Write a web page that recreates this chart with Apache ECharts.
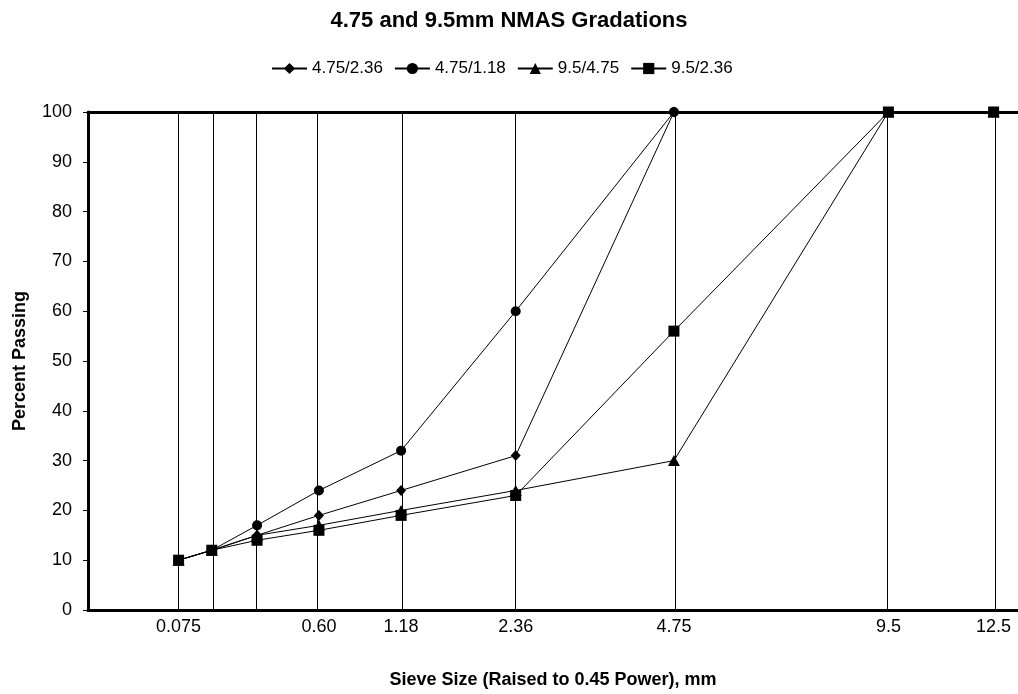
<!DOCTYPE html>
<html>
<head>
<meta charset="utf-8">
<script src="https://cdn.jsdelivr.net/npm/echarts@6/dist/echarts.min.js"></script>
<style>
  html, body { margin: 0; padding: 0; background: #fff; }
  #chart { width: 1018px; height: 694px; }
</style>
</head>
<body>
<div id="chart"></div>
<script>
// Sieve sizes (mm) and the power used for the x scale
var sieves = [0.075, 0.15, 0.30, 0.60, 1.18, 2.36, 4.75, 9.5, 12.5];
var power = 0.45;
// Tick labels shown on the x axis
var xTickLabels = ['0.075', '0.60', '1.18', '2.36', '4.75', '9.5', '12.5'];
// Series names
var seriesNames = ['4.75/2.36', '4.75/1.18', '9.5/4.75', '9.5/2.36'];
// Percent passing per series (in sieve order)
var pass_475_236 = [10, 12, 15, 19, 24, 31, 100];
var pass_475_118 = [10, 12, 17, 24, 32, 60, 100];
var pass_95_475 = [10, 12, 15, 17, 20, 24, 30, 100, 100];
var pass_95_236 = [10, 12, 14, 16, 19, 23, 56, 100, 100];

function px(s) { return Math.pow(s, power); }
function toPoints(vals) {
  return vals.map(function (v, i) { return [px(sieves[i]), v]; });
}

var FONT = "'Liberation Sans', Arial, sans-serif";
var chart = echarts.init(document.getElementById('chart'), null, { renderer: 'canvas' });

var symbols = [['diamond', [10, 11]], ['circle', 10], ['triangle', [12, 11]], ['rect', 11]];
var allData = [pass_475_236, pass_475_118, pass_95_475, pass_95_236];

var series = allData.map(function (vals, k) {
  var s = {
    name: seriesNames[k],
    type: 'line',
    data: toPoints(vals),
    symbol: symbols[k][0],
    symbolSize: symbols[k][1],
    showSymbol: true,
    lineStyle: { color: '#000', width: 1 },
    itemStyle: { color: '#000' },
    z: 3 + k,
    animation: false
  };
  if (k === 0) {
    s.markLine = {
      silent: true,
      symbol: 'none',
      animation: false,
      label: { show: false },
      lineStyle: { color: '#000', width: 1, type: 'solid' },
      emphasis: { disabled: true },
      data: sieves.map(function (sv) { return { xAxis: px(sv) }; })
    };
  }
  return s;
});

var option = {
  backgroundColor: '#fff',
  animation: false,
  title: {
    text: '4.75 and 9.5mm NMAS Gradations',
    left: 'center',
    top: 10,
    padding: 0,
    textStyle: { fontFamily: FONT, fontSize: 22, fontWeight: 'bold', color: '#000' }
  },
  legend: {
    top: 55,
    left: 266,
    itemWidth: 35,
    itemHeight: 14,
    itemGap: 11,
    textStyle: { fontFamily: FONT, fontSize: 17, color: '#000' },
    data: seriesNames
  },
  grid: {
    left: 88,
    top: 112,
    width: 933,
    height: 501,
    show: false
  },
  xAxis: [{
    type: 'value',
    min: 0,
    max: 3.2,
    name: 'Sieve Size (Raised to 0.45 Power), mm',
    nameLocation: 'middle',
    nameGap: 61,
    nameTextStyle: { fontFamily: FONT, fontSize: 18, fontWeight: 'bold', color: '#000' },
    axisLine: { show: true, onZero: false, lineStyle: { color: '#000', width: 3 } },
    axisTick: { show: false },
    splitLine: { show: false },
    axisLabel: {
      fontFamily: FONT, fontSize: 18, color: '#000', margin: 8,
      customValues: xTickLabels.map(function (l) { return px(parseFloat(l)); }),
      formatter: function (v) {
        for (var i = 0; i < xTickLabels.length; i++) {
          if (Math.abs(px(parseFloat(xTickLabels[i])) - v) < 1e-6) return xTickLabels[i];
        }
        return '';
      }
    }
  }, {
    type: 'value',
    position: 'top',
    min: 0,
    max: 3.2,
    axisLine: { show: true, onZero: false, lineStyle: { color: '#000', width: 3 } },
    axisTick: { show: false },
    axisLabel: { show: false },
    splitLine: { show: false }
  }],
  yAxis: {
    type: 'value',
    min: 0,
    max: 100,
    interval: 10,
    name: 'Percent Passing',
    nameLocation: 'middle',
    nameGap: 59,
    nameTextStyle: { fontFamily: FONT, fontSize: 18, fontWeight: 'bold', color: '#000' },
    axisLine: { show: true, onZero: false, lineStyle: { color: '#000', width: 3 } },
    axisTick: { show: true, length: 5, lineStyle: { color: '#000', width: 1 } },
    splitLine: { show: false },
    axisLabel: { fontFamily: FONT, fontSize: 18, color: '#000', margin: 16 }
  },
  series: series
};
chart.setOption(option);
</script>
</body>
</html>
